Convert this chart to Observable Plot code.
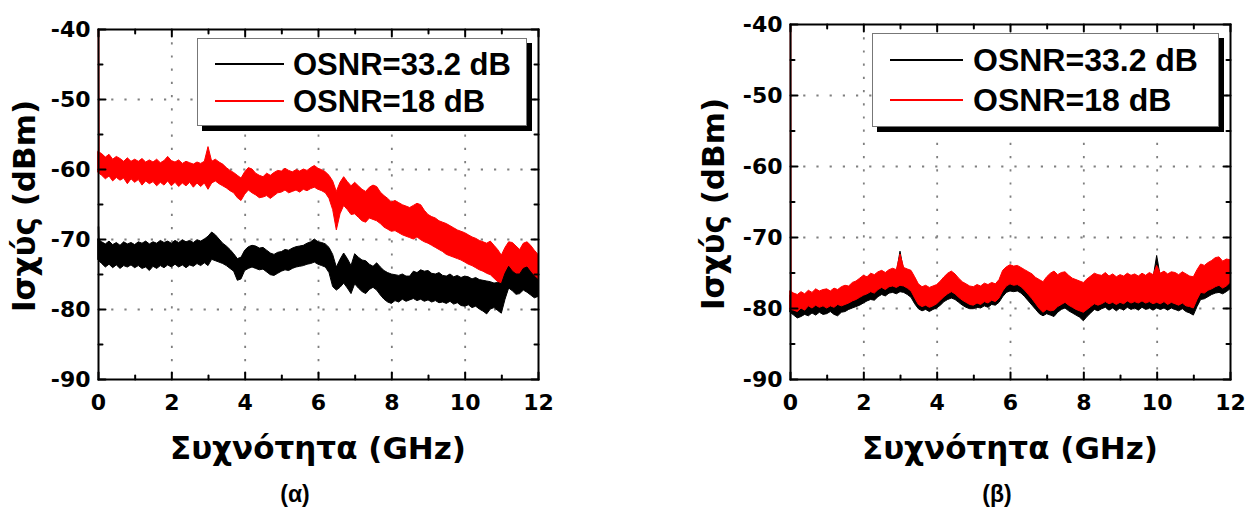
<!DOCTYPE html>
<html><head><meta charset="utf-8">
<script src="https://cdn.jsdelivr.net/npm/d3@7"></script>
<script src="https://cdn.jsdelivr.net/npm/@observablehq/plot@0.6"></script>
<style>
html,body{margin:0;padding:0;background:#fff;}
#root{position:relative;width:1259px;height:511px;overflow:hidden;background:#fff;}
.panel{position:absolute;top:0;}
.legend{position:absolute;background:#fff;border:1px solid #777;box-shadow:5px 5px 0 #000;box-sizing:border-box;}
.legend .sw{position:absolute;height:0;border-top:2px solid;}
.legend .lb{position:absolute;white-space:nowrap;font-family:"Liberation Sans",Arial,sans-serif;font-weight:bold;line-height:1;color:#000;}
.ttl{position:absolute;white-space:nowrap;font-weight:bold;line-height:1;color:#000;}
</style></head><body><div id="root"></div>
<script>
// ---------- data ----------
const freq = [
 0,0.1,0.2,0.3,0.4,0.5,0.6,0.7,0.8,0.9,
 1,1.1,1.2,1.3,1.4,1.5,1.6,1.7,1.8,1.9,
 2,2.1,2.2,2.3,2.4,2.5,2.6,2.7,2.8,2.9,
 3,3.1,3.2,3.3,3.4,3.5,3.6,3.7,3.8,3.9,
 4,4.1,4.2,4.3,4.4,4.5,4.6,4.7,4.8,4.9,
 5,5.1,5.2,5.3,5.4,5.5,5.6,5.7,5.8,5.9,
 6,6.1,6.2,6.3,6.4,6.5,6.6,6.7,6.8,6.9,
 7,7.1,7.2,7.3,7.4,7.5,7.6,7.7,7.8,7.9,
 8,8.1,8.2,8.3,8.4,8.5,8.6,8.7,8.8,8.9,
 9,9.1,9.2,9.3,9.4,9.5,9.6,9.7,9.8,9.9,
 10,10.1,10.2,10.3,10.4,10.5,10.6,10.7,10.8,10.9,
 11,11.1,11.2,11.3,11.4,11.5,11.6,11.7,11.8,11.9,
 12];

const seriesNames = ["OSNR=33.2 dB", "OSNR=18 dB"];
const seriesColors = ["#000000", "#ff0000"];
const xTicks = [0,2,4,6,8,10,12];
const xMinorTicks = [1,3,5,7,9,11];
const yTicks = [-90,-80,-70,-60,-50,-40];
const yMinorTicks = [-85,-75,-65,-55,-45];
const xGrid = [2,4,6,8,10];
const yGrid = [-80,-70,-60,-50];
const xTitle = "Συχνότητα (GHz)";
const yTitle = "Ισχύς (dBm)";
const captions = ["(α)", "(β)"];

// trace start (DC spike) points
const startFreq = [0, 0.01];
const redStartA = [-40, -57.5];
const blackStartA = [-68.2, -70.6];
const redStartB = [-40, -78.0];

// panel (α): upper / lower envelope of the noisy traces, dBm
const redHiA = [
 -57.5,-57.8,-58.3,-57.9,-58.6,-58.2,-58.5,-58.9,-58.4,-58.9,
 -58.6,-58.9,-58.5,-59.0,-58.7,-59.0,-58.6,-59.1,-58.8,-58.2,
 -58.8,-59.0,-58.7,-59.2,-58.9,-59.1,-59.3,-59.0,-59.2,-58.9,
 -56.8,-58.9,-58.6,-59.0,-59.3,-59.8,-60.2,-60.5,-60.9,-61.3,
 -60.4,-59.8,-60.0,-60.6,-60.9,-61.1,-60.6,-60.9,-60.5,-60.2,
 -60.3,-59.9,-60.2,-60.4,-60.1,-60.3,-60.0,-60.2,-59.8,-59.5,
 -59.9,-60.1,-60.4,-60.9,-61.7,-63.2,-61.9,-61.1,-61.8,-62.4,
 -61.9,-62.4,-62.9,-63.2,-62.6,-62.3,-62.5,-63.3,-63.8,-64.2,
 -64.7,-64.5,-64.8,-65.1,-65.3,-65.5,-65.2,-64.9,-65.1,-65.9,
 -66.5,-66.8,-67.0,-67.4,-67.6,-67.8,-68.1,-68.4,-68.7,-68.9,
 -69.1,-69.4,-69.7,-69.9,-70.2,-70.4,-70.6,-70.3,-70.9,-71.5,
 -72.3,-71.2,-70.4,-70.5,-71.0,-71.5,-70.6,-70.4,-70.9,-71.6,
 -72.2];
const redLoA = [
 -60.5,-60.9,-61.4,-61.0,-61.7,-61.2,-61.6,-61.3,-62.1,-61.4,
 -61.9,-61.5,-62.3,-61.7,-62.1,-61.8,-62.4,-61.9,-62.3,-61.7,
 -62.4,-61.9,-62.5,-62.0,-62.4,-61.9,-62.6,-62.0,-62.5,-62.0,
 -62.9,-62.0,-61.7,-62.1,-62.4,-62.7,-63.1,-63.4,-64.1,-64.5,
 -63.6,-63.0,-63.4,-63.7,-64.1,-64.0,-63.8,-64.2,-63.8,-63.4,
 -63.3,-63.0,-63.4,-63.2,-63.0,-63.3,-62.9,-63.1,-62.8,-62.6,
 -62.9,-63.1,-63.4,-64.2,-65.8,-68.7,-66.4,-65.2,-65.8,-66.5,
 -66.4,-66.9,-67.4,-67.6,-67.0,-67.2,-67.4,-67.8,-68.3,-68.6,
 -68.9,-68.8,-69.1,-69.4,-69.6,-69.8,-70.0,-69.7,-70.1,-70.4,
 -70.6,-70.9,-71.2,-71.5,-71.8,-72.2,-72.4,-72.6,-72.8,-73.0,
 -73.3,-73.6,-73.8,-74.1,-74.4,-74.6,-74.9,-75.1,-75.6,-76.1,
 -76.9,-76.0,-75.3,-75.0,-75.6,-75.9,-75.1,-74.8,-75.4,-76.2,
 -76.6];
const blackHiA = [
 -70.0,-70.4,-70.7,-70.3,-70.8,-70.5,-70.9,-70.4,-70.7,-70.5,
 -70.8,-70.4,-70.6,-70.3,-70.7,-70.4,-70.6,-70.2,-70.5,-70.3,
 -70.6,-70.2,-70.5,-70.1,-70.4,-70.2,-70.5,-70.1,-70.3,-70.0,
 -69.6,-69.0,-69.4,-70.0,-70.6,-71.0,-71.5,-72.1,-72.8,-72.6,
 -71.6,-71.1,-70.9,-71.0,-71.3,-71.2,-71.6,-72.0,-72.2,-71.9,
 -71.8,-71.5,-71.6,-71.3,-71.1,-71.0,-70.9,-70.6,-70.4,-70.0,
 -70.4,-70.5,-70.7,-71.2,-72.2,-74.0,-72.9,-72.0,-72.8,-73.8,
 -72.1,-72.6,-73.0,-73.1,-73.6,-73.9,-73.4,-74.0,-74.5,-74.8,
 -75.0,-75.1,-75.2,-75.0,-75.3,-75.3,-74.6,-74.8,-74.4,-74.6,
 -74.5,-74.9,-75.0,-74.8,-75.2,-75.3,-75.0,-75.4,-75.2,-75.5,
 -75.3,-75.4,-75.7,-75.5,-75.8,-75.9,-76.0,-76.1,-76.3,-76.2,
 -76.4,-74.9,-73.9,-74.6,-75.0,-75.0,-74.2,-74.0,-74.7,-75.3,
 -75.8];
const blackLoA = [
 -73.0,-73.5,-74.0,-73.6,-74.1,-73.7,-74.2,-73.8,-74.0,-73.7,
 -74.1,-73.8,-74.2,-74.0,-74.5,-73.9,-74.2,-73.8,-74.1,-73.7,
 -74.0,-73.6,-74.0,-73.7,-74.1,-73.7,-73.9,-73.5,-73.8,-73.4,
 -73.8,-72.9,-73.1,-73.3,-73.5,-73.8,-74.2,-74.6,-75.9,-75.7,
 -74.5,-74.2,-74.0,-74.2,-74.4,-74.3,-74.7,-75.1,-75.2,-74.9,
 -74.6,-74.4,-74.5,-74.2,-74.0,-73.9,-73.8,-73.6,-73.5,-73.3,
 -73.6,-73.8,-74.0,-74.8,-76.8,-77.3,-76.9,-76.3,-77.0,-77.8,
 -76.4,-77.0,-77.5,-77.8,-77.2,-76.9,-77.3,-78.0,-78.6,-79.0,
 -79.2,-78.8,-79.0,-78.6,-78.9,-78.7,-78.5,-78.8,-78.6,-78.9,
 -78.7,-79.0,-78.8,-79.1,-79.0,-79.2,-78.9,-79.3,-79.1,-79.5,
 -79.6,-79.4,-79.8,-79.6,-80.0,-80.3,-80.7,-80.0,-79.8,-80.2,
 -80.6,-78.6,-77.0,-77.4,-77.9,-77.8,-77.3,-77.6,-78.0,-78.4,
 -78.2];

// panel (β)
const redHiB = [
 -77.6,-77.9,-78.1,-77.7,-78.0,-77.5,-77.8,-77.3,-77.6,-77.4,
 -77.3,-77.6,-77.2,-77.4,-77.0,-76.8,-76.9,-76.4,-76.2,-75.8,
 -75.4,-75.6,-75.1,-75.3,-74.9,-74.7,-75.0,-74.6,-74.4,-74.6,
 -72.4,-74.3,-74.5,-74.7,-75.6,-76.6,-77.0,-76.8,-77.1,-76.9,
 -76.7,-76.2,-75.6,-75.1,-74.8,-75.2,-75.8,-76.3,-76.6,-76.9,
 -77.0,-76.7,-76.9,-76.5,-76.7,-76.4,-76.6,-76.0,-74.7,-74.2,
 -73.9,-74.1,-74.0,-74.3,-74.6,-74.9,-75.2,-75.7,-76.0,-76.3,
 -75.6,-75.1,-74.8,-75.3,-75.0,-74.9,-75.4,-75.8,-76.0,-76.2,
 -76.4,-75.9,-75.5,-75.1,-75.3,-75.4,-75.0,-75.5,-75.2,-75.6,
 -75.3,-75.5,-75.1,-75.4,-75.2,-75.5,-75.1,-75.4,-75.0,-75.3,
 -74.0,-75.1,-74.8,-75.2,-74.9,-75.0,-75.3,-74.9,-75.2,-75.5,
 -75.6,-74.6,-73.8,-74.0,-73.6,-73.3,-72.9,-72.8,-73.4,-73.1,
 -73.2];
const redLoB = [
 -80.2,-80.3,-80.5,-80.0,-80.3,-79.7,-80.0,-79.6,-79.9,-79.7,
 -80.0,-79.7,-79.9,-79.5,-79.7,-79.5,-79.3,-79.0,-78.8,-78.5,
 -78.2,-78.0,-77.7,-77.9,-77.4,-77.1,-77.4,-77.0,-76.9,-77.1,
 -76.8,-76.9,-77.2,-77.6,-78.6,-79.5,-79.8,-79.6,-79.9,-79.7,
 -79.4,-78.9,-78.4,-78.0,-77.7,-78.0,-78.5,-78.9,-79.2,-79.5,
 -79.6,-79.3,-79.5,-79.1,-79.3,-78.9,-79.1,-78.6,-77.6,-76.9,
 -76.6,-76.8,-76.7,-77.0,-77.5,-78.1,-78.7,-79.4,-80.1,-80.6,
 -80.2,-80.4,-80.3,-79.8,-79.5,-79.2,-79.6,-79.9,-80.2,-80.4,
 -80.6,-80.2,-79.8,-79.4,-79.6,-79.4,-79.1,-79.4,-79.2,-79.5,
 -79.2,-79.4,-79.0,-79.3,-79.1,-79.3,-79.0,-79.3,-79.1,-79.4,
 -79.2,-79.4,-79.1,-79.5,-79.2,-79.4,-79.6,-79.3,-79.7,-79.8,
 -80.0,-78.8,-77.8,-77.9,-77.5,-77.3,-77.0,-76.8,-77.2,-76.9,
 -76.4];
const blackHiB = [
 -78.2,-78.4,-78.6,-78.2,-78.5,-78.0,-78.3,-77.8,-78.1,-77.9,
 -77.8,-78.1,-77.7,-77.9,-77.5,-77.3,-77.4,-76.9,-76.7,-76.3,
 -75.9,-76.1,-75.6,-75.8,-75.4,-75.2,-75.5,-75.1,-74.9,-75.1,
 -72.0,-74.8,-75.0,-75.2,-76.1,-77.1,-77.5,-77.3,-77.6,-77.4,
 -77.2,-76.7,-76.1,-75.6,-75.3,-75.7,-76.3,-76.8,-77.1,-77.4,
 -77.5,-77.2,-77.4,-77.0,-77.2,-76.9,-77.1,-76.5,-75.2,-74.7,
 -74.4,-74.6,-74.5,-74.8,-75.1,-75.4,-75.7,-76.2,-76.5,-76.8,
 -76.1,-75.6,-75.3,-75.8,-75.5,-75.4,-75.9,-76.3,-76.5,-76.7,
 -76.9,-76.4,-76.0,-75.6,-75.8,-75.9,-75.5,-76.0,-75.7,-76.1,
 -75.8,-76.0,-75.6,-75.9,-75.7,-76.0,-75.6,-75.9,-75.5,-75.8,
 -72.6,-75.6,-75.3,-75.7,-75.4,-75.5,-75.8,-75.4,-75.7,-76.0,
 -76.1,-75.1,-74.3,-74.5,-74.1,-73.8,-73.4,-73.3,-73.9,-73.6,
 -73.7];
const blackLoB = [
 -80.6,-81.0,-81.4,-81.2,-80.9,-81.1,-80.7,-81.0,-80.6,-80.9,
 -80.8,-80.5,-80.9,-81.1,-80.6,-80.5,-80.2,-80.0,-79.8,-79.6,
 -79.3,-79.0,-78.8,-78.9,-78.4,-78.1,-78.3,-77.9,-77.8,-78.0,
 -77.7,-77.8,-78.1,-78.5,-79.4,-80.1,-80.4,-80.2,-80.5,-80.2,
 -80.0,-79.6,-79.1,-78.8,-78.6,-78.8,-79.2,-79.6,-79.9,-80.1,
 -80.1,-79.9,-80.0,-79.7,-79.9,-79.5,-79.6,-79.2,-78.4,-77.8,
 -77.6,-77.7,-77.6,-77.9,-78.4,-79.0,-79.6,-80.2,-80.8,-81.1,
 -80.8,-81.0,-81.2,-80.6,-80.2,-80.0,-80.4,-80.7,-81.0,-81.3,
 -81.8,-81.2,-80.7,-80.2,-80.4,-80.1,-79.9,-80.3,-80.0,-80.4,
 -80.0,-80.3,-79.9,-80.2,-80.0,-80.3,-79.9,-80.2,-80.0,-80.3,
 -80.0,-80.2,-80.0,-80.3,-80.0,-80.2,-80.4,-80.1,-80.5,-80.7,
 -81.0,-79.8,-78.8,-78.7,-78.4,-78.1,-77.9,-77.8,-78.0,-77.7,
 -77.3];

// ---------- helpers ----------
const band = (lo, hi) => freq.map((f, i) => ({f, lo: lo[i], hi: hi[i]}));
const pts = (ys) => startFreq.map((f, i) => ({f, p: ys[i]}));
const tickShape = {draw(ctx, l) { ctx.moveTo(0, 0); ctx.lineTo(0, -l); }};
const FONT = "'DejaVu Sans', Verdana, sans-serif";
const FONT2 = "'Liberation Sans', Arial, sans-serif";

function ticks(values, side, len) {
  const rot = {bottom: 0, top: 180, left: 90, right: -90}[side];
  const ch = (side === "bottom" || side === "top") ? {x: d => d} : {y: d => d};
  return Plot.vector(values, {...ch, frameAnchor: side, length: len, rotate: rot,
    anchor: "start", shape: tickShape, stroke: "black", strokeWidth: 2});
}

function panel({width, marginLeft, marginRight, marginTop, traces, starts}) {
  const marks = [
    Plot.gridX(xGrid, {stroke: "#7f7f7f", strokeOpacity: 1, strokeWidth: 1.8, strokeDasharray: "2.2,11"}),
    Plot.gridY(yGrid, {stroke: "#7f7f7f", strokeOpacity: 1, strokeWidth: 1.8, strokeDasharray: "2.2,11"}),
  ];
  for (const t of traces) {
    marks.push(Plot.areaY(band(t.lo, t.hi), {x: "f", y1: "lo", y2: "hi", fill: t.color, stroke: t.color, strokeWidth: 1, curve: "linear"}));
  }
  for (const s of starts) {
    marks.push(Plot.line(pts(s.ys), {x: "f", y: "p", stroke: s.color, strokeWidth: 1.6}));
  }
  marks.push(
    Plot.frame({stroke: "black", strokeWidth: 2}),
    ticks(xTicks, "bottom", 7), ticks(xMinorTicks, "bottom", 4),
    ticks(xTicks, "top", 7), ticks(xMinorTicks, "top", 4),
    ticks(yTicks, "left", 7), ticks(yMinorTicks, "left", 4),
    ticks(yTicks, "right", 7), ticks(yMinorTicks, "right", 4),
    Plot.axisX({ticks: xTicks, anchor: "bottom", tickSize: 0, tickPadding: 15, tickFormat: d => String(d), fontSize: 22, fontWeight: "bold", label: null}),
    Plot.axisY({ticks: yTicks, anchor: "left", tickSize: 0, tickPadding: 8, tickFormat: d => String(d), fontSize: 22, fontWeight: "bold", label: null})
  );
  return Plot.plot({
    width, height: 511, marginLeft, marginRight, marginTop, marginBottom: 132,
    x: {domain: [0, 12], label: null},
    y: {domain: [-90, -40], label: null},
    style: {background: "white", fontFamily: FONT, fontWeight: "bold", color: "black", overflow: "visible"},
    marks
  });
}

function legend(root, {left, top, width, height, swLeft, swWidth, textLeft, rows, fontSize}) {
  const lg = document.createElement("div");
  lg.className = "legend";
  Object.assign(lg.style, {left: left + "px", top: top + "px", width: width + "px", height: height + "px"});
  seriesNames.forEach((name, i) => {
    const sw = document.createElement("div");
    sw.className = "sw";
    Object.assign(sw.style, {left: swLeft + "px", width: swWidth + "px", top: (rows[i] - 1) + "px", borderTopColor: seriesColors[i]});
    lg.appendChild(sw);
    const lb = document.createElement("div");
    lb.className = "lb";
    lb.textContent = name;
    Object.assign(lb.style, {left: textLeft + "px", top: (rows[i] - 0.49 * fontSize) + "px", fontSize: fontSize + "px"});
    lg.appendChild(lb);
  });
  root.appendChild(lg);
}

// centred text label (HTML), optional rotation
function label(root, text, cx, cy, fontSize, family, rotate) {
  const d = document.createElement("div");
  d.className = "ttl";
  d.textContent = text;
  Object.assign(d.style, {left: cx + "px", top: cy + "px", fontSize: fontSize + "px", fontFamily: family,
    transform: `translate(-50%,-50%)${rotate ? ` rotate(${rotate}deg)` : ""}`});
  root.appendChild(d);
}

const root = document.getElementById("root");

const pA = document.createElement("div");
pA.className = "panel"; pA.style.left = "0px";
pA.appendChild(panel({
  width: 560, marginLeft: 98, marginRight: 22, marginTop: 29,
  traces: [{lo: redLoA, hi: redHiA, color: seriesColors[1]}, {lo: blackLoA, hi: blackHiA, color: seriesColors[0]}],
  starts: [{ys: redStartA, color: seriesColors[1]}, {ys: blackStartA, color: seriesColors[0]}]
}));
root.appendChild(pA);

const pB = document.createElement("div");
pB.className = "panel"; pB.style.left = "690px";
pB.appendChild(panel({
  width: 569, marginLeft: 100, marginRight: 29, marginTop: 24,
  traces: [{lo: blackLoB, hi: blackHiB, color: seriesColors[0]}, {lo: redLoB, hi: redHiB, color: seriesColors[1]}],
  starts: [{ys: redStartB, color: seriesColors[1]}]
}));
root.appendChild(pB);

// axis titles and captions
label(root, xTitle, 318, 447.5, 31, FONT);
label(root, xTitle, 1010, 447.5, 31, FONT);
label(root, yTitle, 23.5, 206, 31, FONT, -90);
label(root, yTitle, 713, 204, 31, FONT, -90);
label(root, captions[0], 295, 494, 23, FONT2);
label(root, captions[1], 997, 494, 23, FONT2);

legend(root, {left: 197, top: 38, width: 330, height: 88, swLeft: 17, swWidth: 69, textLeft: 95, rows: [25, 62], fontSize: 31});
legend(root, {left: 872, top: 33, width: 347, height: 94, swLeft: 17, swWidth: 73, textLeft: 100, rows: [26, 66], fontSize: 32});
</script></body></html>
